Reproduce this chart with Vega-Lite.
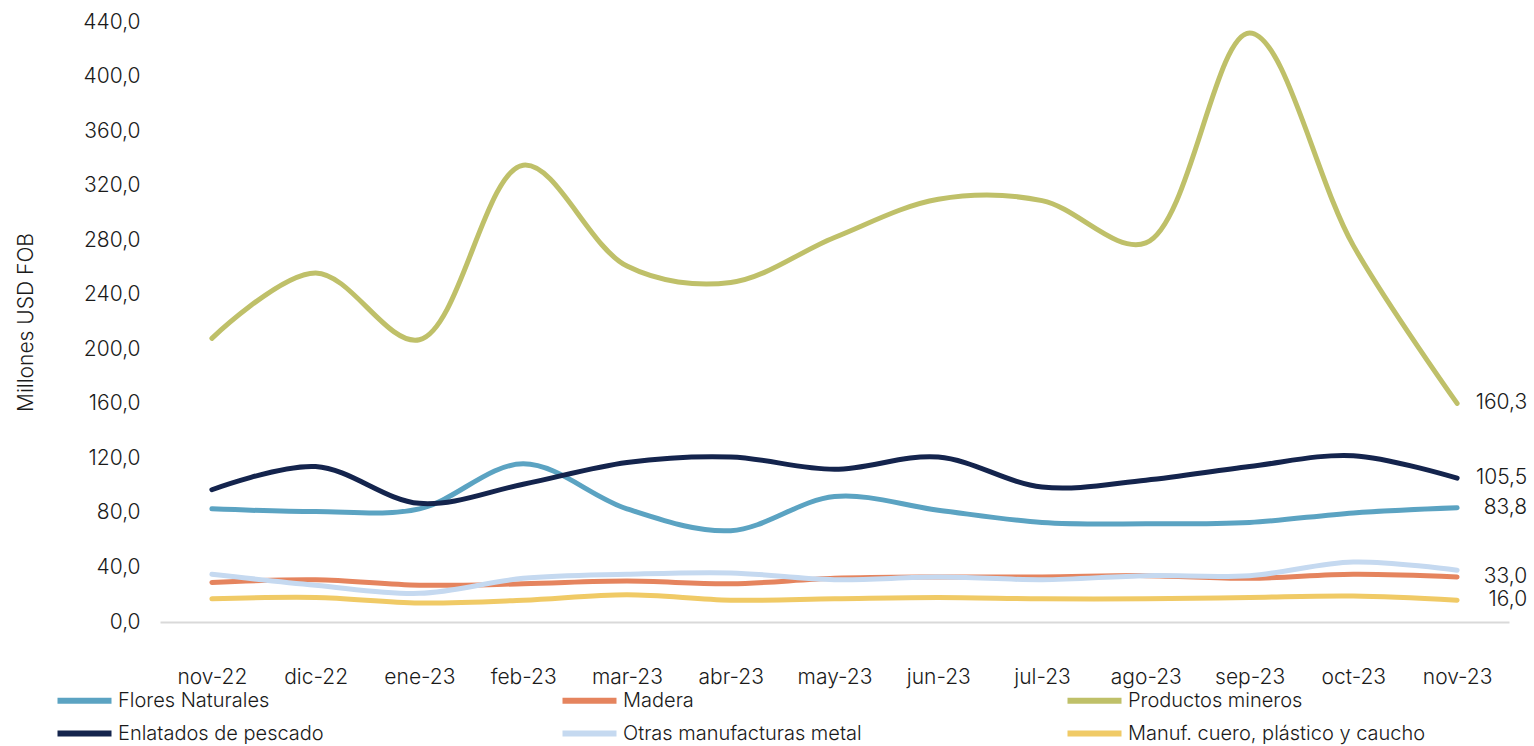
{
  "$schema": "https://vega.github.io/schema/vega-lite/v6.json",
  "width": 1349,
  "height": 600,
  "padding": {"left": 15, "top": 11, "right": 5, "bottom": 5},
  "background": "white",
  "config": {
    "locale": {"number": {"decimal": ",", "thousands": ".", "grouping": [3], "currency": ["$", ""]}},
    "font": "Inter",
    "view": {"stroke": null}
  },
  "data": {
    "values": [
      {"mes": "nov-22", "s": "Flores Naturales", "v": 83},
      {"mes": "dic-22", "s": "Flores Naturales", "v": 81},
      {"mes": "ene-23", "s": "Flores Naturales", "v": 83},
      {"mes": "feb-23", "s": "Flores Naturales", "v": 116},
      {"mes": "mar-23", "s": "Flores Naturales", "v": 83},
      {"mes": "abr-23", "s": "Flores Naturales", "v": 67},
      {"mes": "may-23", "s": "Flores Naturales", "v": 92},
      {"mes": "jun-23", "s": "Flores Naturales", "v": 82},
      {"mes": "jul-23", "s": "Flores Naturales", "v": 73},
      {"mes": "ago-23", "s": "Flores Naturales", "v": 72},
      {"mes": "sep-23", "s": "Flores Naturales", "v": 73},
      {"mes": "oct-23", "s": "Flores Naturales", "v": 80},
      {"mes": "nov-23", "s": "Flores Naturales", "v": 83.8},
      {"mes": "nov-22", "s": "Madera", "v": 29},
      {"mes": "dic-22", "s": "Madera", "v": 31},
      {"mes": "ene-23", "s": "Madera", "v": 27},
      {"mes": "feb-23", "s": "Madera", "v": 28},
      {"mes": "mar-23", "s": "Madera", "v": 30},
      {"mes": "abr-23", "s": "Madera", "v": 28},
      {"mes": "may-23", "s": "Madera", "v": 32},
      {"mes": "jun-23", "s": "Madera", "v": 33},
      {"mes": "jul-23", "s": "Madera", "v": 33},
      {"mes": "ago-23", "s": "Madera", "v": 34},
      {"mes": "sep-23", "s": "Madera", "v": 32},
      {"mes": "oct-23", "s": "Madera", "v": 35},
      {"mes": "nov-23", "s": "Madera", "v": 33.0},
      {"mes": "nov-22", "s": "Productos mineros", "v": 208},
      {"mes": "dic-22", "s": "Productos mineros", "v": 256},
      {"mes": "ene-23", "s": "Productos mineros", "v": 207},
      {"mes": "feb-23", "s": "Productos mineros", "v": 335},
      {"mes": "mar-23", "s": "Productos mineros", "v": 261},
      {"mes": "abr-23", "s": "Productos mineros", "v": 249},
      {"mes": "may-23", "s": "Productos mineros", "v": 282},
      {"mes": "jun-23", "s": "Productos mineros", "v": 310},
      {"mes": "jul-23", "s": "Productos mineros", "v": 309},
      {"mes": "ago-23", "s": "Productos mineros", "v": 278},
      {"mes": "sep-23", "s": "Productos mineros", "v": 432},
      {"mes": "oct-23", "s": "Productos mineros", "v": 276},
      {"mes": "nov-23", "s": "Productos mineros", "v": 160.3},
      {"mes": "nov-22", "s": "Enlatados de pescado", "v": 97},
      {"mes": "dic-22", "s": "Enlatados de pescado", "v": 114},
      {"mes": "ene-23", "s": "Enlatados de pescado", "v": 87},
      {"mes": "feb-23", "s": "Enlatados de pescado", "v": 101},
      {"mes": "mar-23", "s": "Enlatados de pescado", "v": 117},
      {"mes": "abr-23", "s": "Enlatados de pescado", "v": 121},
      {"mes": "may-23", "s": "Enlatados de pescado", "v": 112},
      {"mes": "jun-23", "s": "Enlatados de pescado", "v": 121},
      {"mes": "jul-23", "s": "Enlatados de pescado", "v": 99},
      {"mes": "ago-23", "s": "Enlatados de pescado", "v": 104},
      {"mes": "sep-23", "s": "Enlatados de pescado", "v": 114},
      {"mes": "oct-23", "s": "Enlatados de pescado", "v": 122},
      {"mes": "nov-23", "s": "Enlatados de pescado", "v": 105.5},
      {"mes": "nov-22", "s": "Otras manufacturas metal", "v": 35},
      {"mes": "dic-22", "s": "Otras manufacturas metal", "v": 27},
      {"mes": "ene-23", "s": "Otras manufacturas metal", "v": 21},
      {"mes": "feb-23", "s": "Otras manufacturas metal", "v": 32},
      {"mes": "mar-23", "s": "Otras manufacturas metal", "v": 35},
      {"mes": "abr-23", "s": "Otras manufacturas metal", "v": 36},
      {"mes": "may-23", "s": "Otras manufacturas metal", "v": 31},
      {"mes": "jun-23", "s": "Otras manufacturas metal", "v": 33},
      {"mes": "jul-23", "s": "Otras manufacturas metal", "v": 31},
      {"mes": "ago-23", "s": "Otras manufacturas metal", "v": 34},
      {"mes": "sep-23", "s": "Otras manufacturas metal", "v": 34},
      {"mes": "oct-23", "s": "Otras manufacturas metal", "v": 44},
      {"mes": "nov-23", "s": "Otras manufacturas metal", "v": 38},
      {"mes": "nov-22", "s": "Manuf. cuero, plástico y caucho", "v": 17},
      {"mes": "dic-22", "s": "Manuf. cuero, plástico y caucho", "v": 18},
      {"mes": "ene-23", "s": "Manuf. cuero, plástico y caucho", "v": 14},
      {"mes": "feb-23", "s": "Manuf. cuero, plástico y caucho", "v": 16},
      {"mes": "mar-23", "s": "Manuf. cuero, plástico y caucho", "v": 20},
      {"mes": "abr-23", "s": "Manuf. cuero, plástico y caucho", "v": 16},
      {"mes": "may-23", "s": "Manuf. cuero, plástico y caucho", "v": 17},
      {"mes": "jun-23", "s": "Manuf. cuero, plástico y caucho", "v": 18},
      {"mes": "jul-23", "s": "Manuf. cuero, plástico y caucho", "v": 17},
      {"mes": "ago-23", "s": "Manuf. cuero, plástico y caucho", "v": 17},
      {"mes": "sep-23", "s": "Manuf. cuero, plástico y caucho", "v": 18},
      {"mes": "oct-23", "s": "Manuf. cuero, plástico y caucho", "v": 19},
      {"mes": "nov-23", "s": "Manuf. cuero, plástico y caucho", "v": 16.0}
    ]
  },
  "encoding": {
    "x": {
      "field": "mes", "type": "ordinal", "sort": null,
      "scale": {"type": "point", "padding": 0.5},
      "axis": {"title": null, "labelAngle": 0, "labelFontSize": 21, "labelFontWeight": 300, "labelColor": "#1a1a1a", "labelPadding": 44, "ticks": false, "domainColor": "#d9d9d9", "domainWidth": 2, "grid": false}
    },
    "y": {
      "field": "v", "type": "quantitative",
      "scale": {"domain": [0, 440], "nice": false},
      "axis": {"title": "Millones USD FOB", "titleFontSize": 21, "titleFontWeight": 300, "titleColor": "#1a1a1a", "titlePadding": 46, "format": ".1f", "values": [0, 40, 80, 120, 160, 200, 240, 280, 320, 360, 400, 440], "labelFontSize": 21, "labelFontWeight": 300, "labelColor": "#1a1a1a", "labelPadding": 20, "ticks": false, "domain": false, "grid": false}
    },
    "color": {
      "field": "s", "type": "nominal",
      "scale": {
        "domain": ["Flores Naturales", "Madera", "Productos mineros", "Enlatados de pescado", "Otras manufacturas metal", "Manuf. cuero, plástico y caucho"],
        "range": ["#5ba3c2", "#e5845e", "#bfc069", "#14244d", "#c5d9f0", "#f0ca66"]
      },
      "legend": {
        "title": null, "orient": "none", "legendX": -92, "legendY": 662,
        "direction": "horizontal", "columns": 3, "gridAlign": "all", "columnPadding": 134, "rowPadding": 4,
        "symbolType": "M-2,0H2", "symbolSize": 729, "symbolStrokeWidth": 6,
        "labelFontSize": 20, "labelFontWeight": 300, "labelColor": "#1a1a1a", "labelOffset": 17, "labelLimit": 500
      }
    }
  },
  "layer": [
    {
      "mark": {"type": "line", "interpolate": "catmull-rom", "strokeWidth": 5, "strokeCap": "round"}
    },
    {
      "transform": [{"filter": "datum.mes == 'nov-23' && datum.s != 'Otras manufacturas metal'"}],
      "mark": {"type": "text", "align": "right", "dx": 70, "fontSize": 21, "fontWeight": 300},
      "encoding": {
        "text": {"field": "v", "type": "quantitative", "format": ".1f"},
        "color": {"value": "#1a1a1a"},
        "yOffset": {"condition": {"test": "datum.s == 'Manuf. cuero, plástico y caucho'", "value": 8}, "value": 0}
      }
    }
  ]
}
